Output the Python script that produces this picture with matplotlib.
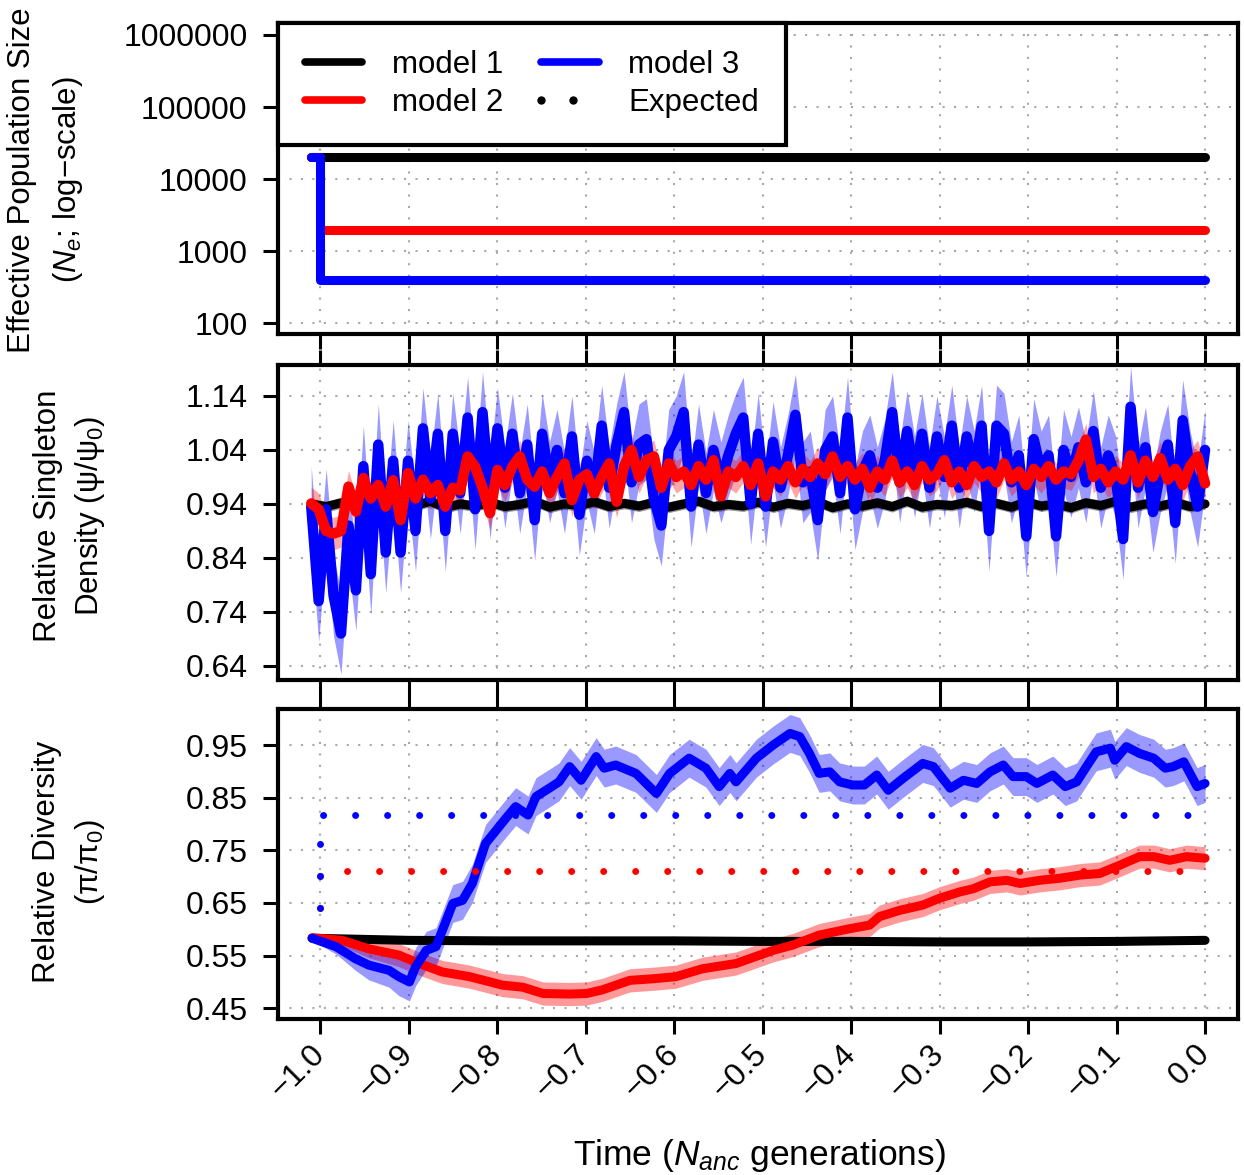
import numpy as np
import matplotlib
matplotlib.use("Agg")
import matplotlib.pyplot as plt
from matplotlib.lines import Line2D
from matplotlib.legend_handler import HandlerLine2D

plt.rcParams["font.family"] = ["Liberation Sans", "DejaVu Sans"]
plt.rcParams["mathtext.fontset"] = "custom"
plt.rcParams["mathtext.rm"] = "Liberation Sans"
plt.rcParams["mathtext.it"] = "Liberation Sans:italic"
plt.rcParams["font.size"] = 23

# =========================
# Data
# =========================

# panel 1: effective population size (step history)
ne_time = [-1.01, -1.0, 0.0]
ne_model1 = [20000, 20000, 20000]
ne_model2 = [20000, 2000, 2000]
ne_model3 = [20000, 400, 400]

# panel 2: relative singleton density
blue2 = [0.935, 0.76, 0.93, 0.77, 0.70, 0.90, 0.78, 1.01, 0.81, 1.05,
         0.85, 1.02, 0.85, 1.02, 0.89, 1.08, 0.95, 1.07, 0.89, 1.07,
         0.96, 1.10, 0.93, 1.11, 0.95, 1.08, 0.97, 1.07, 0.96, 1.05,
         0.91, 1.07, 0.98, 1.04, 0.96, 1.065, 0.92, 1.02, 0.96, 1.085,
         0.97, 1.05, 1.11, 0.98, 1.05, 1.06, 0.95, 0.90, 1.04, 1.065,
         1.11, 0.935, 1.05, 0.96, 1.04, 0.98, 1.03, 1.07, 1.10, 0.94,
         1.07, 0.935, 1.055, 0.97, 1.03, 1.105, 0.98, 1.00, 0.91, 1.04,
         1.065, 0.96, 1.10, 0.93, 1.00, 1.03, 0.97, 1.02, 1.11, 0.98,
         1.075, 0.99, 1.07, 0.97, 1.065, 0.99, 1.085, 0.97, 1.065, 1.00,
         1.085, 0.89, 1.085, 1.07, 0.98, 1.03, 0.88, 1.06, 1.00, 1.03,
         0.88, 1.04, 0.99, 1.045, 0.98, 1.075, 0.97, 1.03, 0.99, 0.875,
         1.12, 0.97, 1.045, 0.925, 1.00, 1.05, 0.905, 1.095, 1.00, 0.935,
         1.04]
red2 = [0.941, 0.93, 0.89, 0.885, 0.89, 0.972, 0.926, 0.988, 0.95, 0.975,
        0.935, 0.984, 0.91, 0.997, 0.95, 0.985, 0.96, 0.975, 0.935, 0.97,
        0.965, 1.028, 1.009, 0.97, 0.923, 1.003, 0.975, 1.009, 1.028, 0.985,
        0.972, 1.0, 0.96, 0.99, 1.015, 0.947, 0.985, 0.995, 0.96, 0.99,
        1.015, 0.944, 1.01, 1.04, 0.99, 1.021, 1.028, 0.97, 1.015, 0.99,
        1.0, 0.975, 1.01, 0.985, 1.021, 0.954, 1.0, 0.99, 1.01, 0.975,
        1.015, 0.954, 1.0, 0.985, 1.01, 0.98, 1.005, 0.99, 1.015, 0.995,
        1.028, 0.99, 1.01, 0.985, 1.005, 0.97, 1.0, 0.985, 1.02, 0.98,
        1.0, 0.975, 1.01, 0.985, 0.995, 1.021, 0.98, 1.0, 0.975, 1.01,
        0.99, 1.0, 0.98, 1.015, 0.985, 1.0, 0.975, 1.005, 0.99, 1.01,
        0.985, 1.0, 0.995, 1.02, 1.059, 0.99, 1.005, 0.98, 1.0, 0.985,
        1.03, 0.98, 1.02, 0.99, 1.025, 0.985, 1.005, 0.975, 1.01, 1.028,
        0.978]
black2 = [0.940, 0.935, 0.942, 0.936, 0.944, 0.934, 0.941, 0.937, 0.945, 0.933,
          0.940, 0.936, 0.943, 0.935, 0.939, 0.945, 0.934, 0.940, 0.937, 0.944,
          0.935, 0.941, 0.936, 0.943, 0.934, 0.940, 0.945, 0.935, 0.939, 0.936,
          0.943, 0.934, 0.941, 0.937, 0.944, 0.933, 0.940, 0.936, 0.942, 0.935,
          0.945, 0.934, 0.939, 0.937, 0.943, 0.935, 0.941, 0.934, 0.944, 0.936,
          0.940, 0.933, 0.942, 0.937, 0.945, 0.934, 0.940, 0.936, 0.943, 0.935,
          0.940]
band2_blue = 0.075
band2_red = 0.03
band2_black = 0.01

# panel 3: relative diversity
blue3_t = [-1.009, -0.982, -0.960, -0.945, -0.922, -0.911, -0.899, -0.892, -0.880, -0.869,
           -0.850, -0.839, -0.828, -0.813, -0.801, -0.790, -0.779, -0.765, -0.756, -0.741,
           -0.730, -0.718, -0.705, -0.688, -0.679, -0.666, -0.643, -0.620, -0.605, -0.583,
           -0.564, -0.549, -0.537, -0.530, -0.507, -0.488, -0.469, -0.458, -0.447, -0.436,
           -0.424, -0.413, -0.398, -0.385, -0.371, -0.358, -0.341, -0.319, -0.307, -0.288,
           -0.273, -0.258, -0.243, -0.228, -0.217, -0.202, -0.190, -0.172, -0.158, -0.145,
           -0.134, -0.123, -0.107, -0.102, -0.089, -0.074, -0.058, -0.045, -0.036, -0.024,
           -0.009, 0.0]
blue3_v = [0.583, 0.567, 0.544, 0.532, 0.522, 0.510, 0.500, 0.529, 0.560, 0.567,
           0.649, 0.655, 0.687, 0.763, 0.788, 0.811, 0.833, 0.817, 0.852, 0.868,
           0.880, 0.909, 0.883, 0.928, 0.906, 0.912, 0.896, 0.858, 0.896, 0.925,
           0.906, 0.871, 0.896, 0.880, 0.925, 0.950, 0.972, 0.966, 0.934, 0.896,
           0.899, 0.880, 0.874, 0.874, 0.893, 0.864, 0.887, 0.915, 0.909, 0.868,
           0.883, 0.877, 0.899, 0.912, 0.890, 0.890, 0.877, 0.893, 0.871, 0.880,
           0.909, 0.937, 0.944, 0.921, 0.947, 0.934, 0.925, 0.906, 0.909, 0.918,
           0.871, 0.877]
blue3_se = [0.004, 0.014, 0.022, 0.028, 0.032] + [0.036] * 67

red3_t = [-1.009, -0.975, -0.945, -0.911, -0.888, -0.862, -0.831, -0.794, -0.771, -0.748,
          -0.718, -0.699, -0.681, -0.650, -0.624, -0.598, -0.568, -0.530, -0.488, -0.466,
          -0.436, -0.402, -0.379, -0.368, -0.345, -0.319, -0.300, -0.277, -0.262, -0.243,
          -0.224, -0.209, -0.187, -0.164, -0.141, -0.119, -0.096, -0.074, -0.058, -0.040,
          -0.021, 0.0]
red3_v = [0.584, 0.579, 0.563, 0.551, 0.535, 0.519, 0.510, 0.494, 0.490, 0.478,
          0.477, 0.478, 0.485, 0.503, 0.506, 0.510, 0.525, 0.535, 0.560, 0.570,
          0.589, 0.601, 0.608, 0.624, 0.636, 0.646, 0.659, 0.671, 0.677, 0.690,
          0.693, 0.687, 0.693, 0.697, 0.703, 0.706, 0.722, 0.738, 0.738, 0.731,
          0.738, 0.735]
red3_se = [0.004, 0.011, 0.017] + [0.022] * 39

black3_t = [-1.009, -0.9, -0.8, -0.7, -0.6, -0.5, -0.4, -0.3, -0.2, -0.1, 0.0]
black3_v = [0.583, 0.579, 0.578, 0.578, 0.578, 0.577, 0.577, 0.576, 0.576, 0.577, 0.579]
black3_se = 0.005

# expected diversity (start at pi0 ratio of 0.58)
exp_start = 0.58
exp_model2 = 0.71
exp_model3 = 0.817

xticks = [-1.0, -0.9, -0.8, -0.7, -0.6, -0.5, -0.4, -0.3, -0.2, -0.1, 0.0]
xtick_labels = ["\u22121.0", "\u22120.9", "\u22120.8", "\u22120.7", "\u22120.6",
                "\u22120.5", "\u22120.4", "\u22120.3", "\u22120.2", "\u22120.1", "0.0"]
ne_ticks = [100, 1000, 10000, 100000, 1000000]
sd_ticks = [0.64, 0.74, 0.84, 0.94, 1.04, 1.14]
pi_ticks = [0.45, 0.55, 0.65, 0.75, 0.85, 0.95]

BLUE = "#0000FF"
RED = "#FF0000"
LW = 6.5
GRID = dict(color="#A8A8A8", linestyle=(0, (1, 4.5)), linewidth=1.5)
DOTS = dict(linestyle=(0, (0.01, 4.6)), linewidth=5, dash_capstyle="round", zorder=4)


class DotPairHandler(HandlerLine2D):
    def get_xdata(self, legend, xdescent, ydescent, width, height, fontsize):
        xs = np.array([0.0, 0.55]) * width - xdescent
        return xs, xs


def style_axis(ax, top_ticks):
    for s in ax.spines.values():
        s.set_linewidth(3)
    ax.tick_params(axis="both", which="major", direction="out", length=11,
                   width=2.2, pad=11, top=top_ticks, right=False)
    ax.tick_params(axis="both", which="minor", length=0)
    ax.set_xlim(-1.0475, 0.0367)
    ax.set_xticks(xticks)
    ax.grid(True, **GRID)
    ax.set_axisbelow(True)


fig = plt.figure(figsize=(12.44, 11.75), dpi=100)
L, W = 0.2235, 0.7713
ax1 = fig.add_axes([L, 0.7157, W, 0.2647])
ax2 = fig.add_axes([L, 0.4213, W, 0.2677])
ax3 = fig.add_axes([L, 0.1328, W, 0.2638])

# =========================
# 1. Ne history
# =========================
ax1.set_yscale("log")
ax1.plot(ne_time, ne_model1, color="black", lw=LW, drawstyle="steps-post", solid_capstyle="round")
ax1.plot(ne_time, ne_model2, color=RED, lw=LW, drawstyle="steps-post", solid_capstyle="round")
ax1.plot(ne_time, ne_model3, color=BLUE, lw=LW, drawstyle="steps-post",
         solid_capstyle="round", solid_joinstyle="round")
style_axis(ax1, False)
ax1.set_ylim(10 ** 1.852, 10 ** 6.166)
ax1.set_yticks(ne_ticks)
ax1.set_yticklabels([str(v) for v in ne_ticks])
ax1.set_xticklabels([])

handles = [Line2D([], [], color="black", lw=5.5, solid_capstyle="round"),
           Line2D([], [], color=RED, lw=5.5, solid_capstyle="round"),
           Line2D([], [], color=BLUE, lw=5.5, solid_capstyle="round"),
           Line2D([], [], color="black", ls="none", marker="o", markersize=5)]
leg = ax1.legend(handles, ["model 1", "model 2", "model 3", "Expected"], ncol=2,
                 loc="upper left", bbox_to_anchor=(0, 1), borderaxespad=0,
                 fontsize=22.5, handlelength=1.85, handletextpad=0.95,
                 columnspacing=1.2, labelspacing=0.28, borderpad=0.85, fancybox=False,
                 framealpha=1, edgecolor="black",
                 handler_map={handles[3]: DotPairHandler(numpoints=2)})
leg.get_frame().set_linewidth(3)

# =========================
# 2. Singleton density
# =========================
t_black2 = np.linspace(-1.01, 0.0, len(black2))
t_col2 = np.linspace(-1.01, 0.0, len(blue2))
b2 = np.array(black2)
u2 = np.array(blue2)
r2 = np.array(red2)
ax2.fill_between(t_black2, b2 - band2_black, b2 + band2_black, color="black", alpha=0.4, lw=0)
ax2.plot(t_black2, b2, color="black", lw=LW, solid_joinstyle="round", solid_capstyle="round")
ax2.fill_between(t_col2, u2 - band2_blue, u2 + band2_blue, color=BLUE, alpha=0.4, lw=0)
ax2.plot(t_col2, u2, color=BLUE, lw=7.5, solid_joinstyle="round", solid_capstyle="round")
ax2.fill_between(t_col2, r2 - band2_red, r2 + band2_red, color=RED, alpha=0.35, lw=0)
ax2.plot(t_col2, r2, color=RED, lw=7.5, solid_joinstyle="round", solid_capstyle="round")
style_axis(ax2, True)
ax2.set_ylim(0.614, 1.1965)
ax2.set_yticks(sd_ticks)
ax2.set_yticklabels([f"{v:.2f}" for v in sd_ticks])
ax2.set_xticklabels([])

# =========================
# 3. Diversity
# =========================
bt, bv = np.array(black3_t), np.array(black3_v)
ut, uv, us = np.array(blue3_t), np.array(blue3_v), np.array(blue3_se)
rt, rv, rs = np.array(red3_t), np.array(red3_v), np.array(red3_se)
ax3.fill_between(bt, bv - black3_se, bv + black3_se, color="black", alpha=0.4, lw=0)
ax3.plot(bt, bv, color="black", lw=LW, solid_capstyle="round")
ax3.fill_between(rt, rv - rs, rv + rs, color=RED, alpha=0.4, lw=0)
ax3.plot(rt, rv, color=RED, lw=LW, solid_joinstyle="round", solid_capstyle="round")
ax3.fill_between(ut, uv - us, uv + us, color=BLUE, alpha=0.4, lw=0)
ax3.plot(ut, uv, color=BLUE, lw=LW, solid_joinstyle="round", solid_capstyle="round")
ax3.plot([-1.0, -1.0, 0.0], [exp_start, exp_model2, exp_model2], color=RED, **DOTS)
ax3.plot([-1.0, -1.0, 0.0], [exp_start, exp_model3, exp_model3], color=BLUE, **DOTS)
style_axis(ax3, True)
ax3.set_ylim(0.4297, 1.0184)
ax3.set_yticks(pi_ticks)
ax3.set_yticklabels([f"{v:.2f}" for v in pi_ticks])
ax3.set_xticklabels(xtick_labels, rotation=45, ha="right", va="center",
                    rotation_mode="anchor")

# =========================
# Labels
# =========================
H = 1175.0
WPX = 1244.0
YL = 22.5
fig.text(22 / WPX, 1 - 180 / H, "Effective Population Size", rotation=90,
         ha="center", va="center", fontsize=YL)
fig.text(68 / WPX, 1 - 180 / H, "($N_e$; log\u2212scale)", rotation=90,
         ha="center", va="center", fontsize=YL)
fig.text(48 / WPX, 1 - 516 / H, "Relative Singleton", rotation=90,
         ha="center", va="center", fontsize=YL)
fig.text(90 / WPX, 1 - 516 / H, "Density (\u03c8/\u03c8$_0$)", rotation=90,
         ha="center", va="center", fontsize=YL)
fig.text(47 / WPX, 1 - 862 / H, "Relative Diversity", rotation=90,
         ha="center", va="center", fontsize=YL)
fig.text(90 / WPX, 1 - 862 / H, "(\u03c0/\u03c0$_0$)", rotation=90,
         ha="center", va="center", fontsize=YL)
fig.text(759 / WPX, 1 - 1155 / H, "Time ($N_{anc}$ generations)", ha="center",
         va="center", fontsize=25.5)

fig.savefig("out.png", dpi=100)
